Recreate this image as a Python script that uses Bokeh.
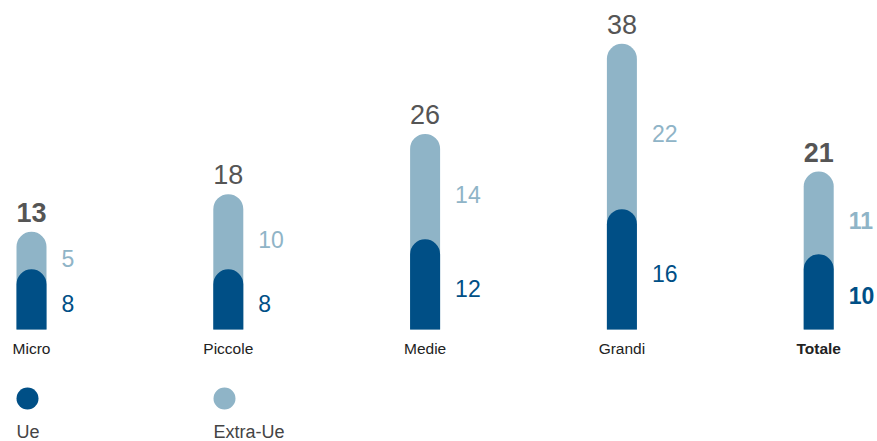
from bokeh.plotting import figure
from bokeh.models import Range1d, ColumnDataSource
from bokeh.core.properties import value
from bokeh.embed import file_html
from bokeh.resources import INLINE

categories = ["Micro", "Piccole", "Medie", "Grandi", "Totale"]
ue = [8, 8, 12, 16, 10]
extra_ue = [5, 10, 14, 22, 11]
totals = [13, 18, 26, 38, 21]
legend_labels = ["Ue", "Extra-Ue"]

DARK = "#004f86"
LIGHT = "#8fb4c7"
GRAY = "#555555"
FONT = "Liberation Sans"

W, H = 877, 441
OFF = 0                  # page offset of the figure
PX = 7.52                # pixels per unit
BASE_SCREEN = 329        # screen y of value 0
top_v = (BASE_SCREEN - OFF) / PX
bot_v = -(OFF + H - BASE_SCREEN) / PX

def sy(screen_y):
    return (BASE_SCREEN - screen_y) / PX

p = figure(width=W, height=H, output_backend="svg", toolbar_location=None,
           x_range=Range1d(OFF, OFF + W), y_range=Range1d(bot_v, top_v),
           min_border=0, outline_line_color=None)
p.axis.visible = False
p.grid.visible = False
p.background_fill_color = "white"

xs = [31 + i * 196.8 for i in range(len(categories))]
bw = 30
cap = 15 / PX

src = ColumnDataSource(dict(x=xs, ue=ue, extra=extra_ue, tot=totals, cat=categories))
p.vbar(x="x", width=bw, bottom=0, top="tot", source=src, fill_color=LIGHT,
       line_color=None, border_radius=(15, 15, 0, 0))
p.vbar(x="x", width=bw, bottom=0, top="ue", source=src, fill_color=DARK,
       line_color=None, border_radius=(15, 15, 0, 0))

for i, c in enumerate(categories):
    bold = "bold" if c == "Totale" or i == 0 else "normal"
    sbold = "bold" if c == "Totale" else "normal"
    # total above
    p.text(x=[xs[i]], y=[totals[i] + 19.5 / PX], text=[str(totals[i])],
           text_align="center", text_baseline="middle",
           text_font=value(FONT), text_font_size="27px", text_font_style=bold,
           text_color=GRAY)
    # extra-ue label
    ly = (totals[i] - cap + ue[i]) / 2
    p.text(x=[xs[i] + 30], y=[ly], text=[str(extra_ue[i])],
           text_align="left", text_baseline="middle",
           text_font=value(FONT), text_font_size="23px", text_font_style=sbold,
           text_color=LIGHT)
    # ue label
    dy = ue[i] / 2 - 4 / PX
    p.text(x=[xs[i] + 30], y=[dy], text=[str(ue[i])],
           text_align="left", text_baseline="middle",
           text_font=value(FONT), text_font_size="23px", text_font_style=sbold,
           text_color=DARK)
    # category label
    p.text(x=[xs[i]], y=[sy(348)], text=[c], text_align="center",
           text_baseline="middle", text_font=value(FONT),
           text_font_size="15.5px", text_font_style=sbold, text_color="#222222")

# legend
leg_x = [27, 224]
p.scatter(x=leg_x, y=[sy(398)] * 2, size=22, marker="circle",
          fill_color=[DARK, LIGHT], line_color=None)
p.text(x=[16, 213], y=[sy(431.5)] * 2, text=legend_labels, text_align="left",
       text_baseline="middle", text_font=value(FONT), text_font_size="18px",
       text_color="#444444")

open("out.html", "w").write(file_html(p, INLINE))
